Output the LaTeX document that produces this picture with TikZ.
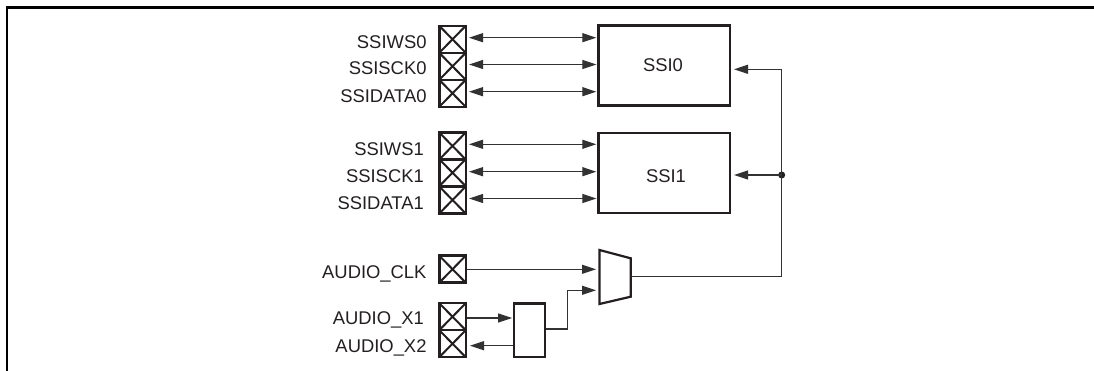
\documentclass[tikz,border=0pt]{standalone}
\usepackage{fontspec}
\setmainfont{Liberation Sans}
\usetikzlibrary{arrows.meta}
\definecolor{ink}{RGB}{35,31,32}
\definecolor{wire}{RGB}{50,50,50}
\tikzset{
  x=1pt,y=-1pt,
  padbox/.style={draw=ink,line width=2.5pt,minimum width=26.5pt,minimum height=27pt,inner sep=0pt,
    path picture={\draw[ink,line width=2pt] (path picture bounding box.north west)--(path picture bounding box.south east)
      (path picture bounding box.north east)--(path picture bounding box.south west);}},
  block/.style={draw=ink,line width=2.2pt,inner sep=0pt},
  lab/.style={anchor=base east,inner sep=0pt,font=\fontsize{18.4}{20}\selectfont,text=ink},
  blab/.style={inner sep=0pt,anchor=base,font=\fontsize{18.4}{20}\selectfont,text=ink},
  tip/.style={-{Triangle[length=14pt,width=9pt]}},
  dtip/.style={{Triangle[length=14pt,width=9pt]}-{Triangle[length=14pt,width=9pt]}},
  wirel/.style={draw=wire,line width=1.2pt},
}
\begin{document}
\begin{tikzpicture}
\useasboundingbox (0,0) rectangle (1094,371);
\draw[black,line width=2.2pt] (7.2,371)--(7.2,7.6)--(1094,7.6);
\foreach \n/\y/\ty/\tx/\t in {a/39.3/48.3/426.7/SSIWS0,b/66.3/74.7/426.7/SSISCK0,c/93.3/102.5/426.7/SSIDATA0,d/146/155.8/424/SSIWS1,e/172.7/182.5/424/SSISCK1,f/200/209.5/424/SSIDATA1,g/269.2/278.2/426.7/AUDIO\_CLK,h/316.7/324.5/424/AUDIO\_X1,i/343.7/352.2/426.7/AUDIO\_X2}{
  \node[padbox] (\n) at (452.5,\y) {};
  \node[lab] (l\n) at (\tx,\ty) {\t};
}
\node[block,minimum width=131.5pt,minimum height=80pt] (s0) at (664.2,65.5) {};
\node[block,minimum width=131.5pt,minimum height=80pt] (s1) at (664.2,173) {};
\node[blab] (t0) at (663,71.5) {SSI0};
\node[blab] (t1) at (666,183) {SSI1};
\node[block,minimum width=31pt,minimum height=53.5pt] (osc) at (529.7,330.3) {};
\draw[draw=ink,line width=2.2pt,line join=miter] (599.5,250)--(630.7,258.3)--(630.7,296.7)--(599.5,304)--cycle;
\coordinate (muxo) at (630.7,276.7);
\coordinate (mi1) at (596,269.3);
\coordinate (mi2) at (596,290.3);
\coordinate (j) at (781.7,175);
\coordinate (r0) at (781.7,69.3);
\fill[ink] (j) circle (3.5pt);
\foreach \n/\y/\z in {a/37.7/s0,b/64.5/s0,c/91.7/s0,d/144.3/s1,e/171.7/s1,f/198.5/s1}{
  \draw[wirel,dtip] ([xshift=2pt]\n.east |- 0,\y) -- ([xshift=-1pt]\z.west |- 0,\y);
}
\draw[wirel,tip] (g.east |- mi1) -- (mi1);
\draw[wirel,tip] (h.east |- 0,318) -- ([xshift=-1pt]osc.west |- 0,318);
\draw[wirel,tip] (osc.west |- 0,345.7) -- ([xshift=3pt]i.east |- 0,345.7);
\draw[wirel,tip] (osc.east |- 0,329) -- (567.7,329) -- (567.7,290.3) -- (mi2);
\draw[wirel] (muxo) -| (j);
\draw[wirel,line cap=rect] (j) -- (r0);
\draw[wirel,tip] (r0) -- ([xshift=3pt]s0.east |- r0);
\draw[wirel,tip] (j) -- ([xshift=3pt]s1.east |- j);
\end{tikzpicture}
\end{document}
